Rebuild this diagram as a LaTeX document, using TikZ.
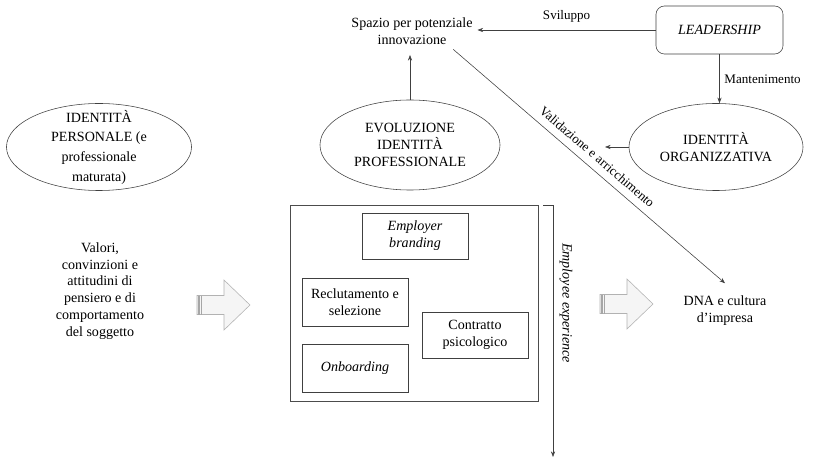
\documentclass[tikz,border=0pt]{standalone}
\usepackage{fontspec}
\setmainfont{Liberation Serif}
\usetikzlibrary{shapes.geometric,arrows.meta}

\begin{document}
\begin{tikzpicture}[x=0.025cm, y=-0.025cm,
  every node/.style={font=\fontsize{10}{12}\selectfont, align=center},
  oval/.style={draw=black!75, ellipse, inner sep=0pt},
  itembox/.style={draw=black!75, minimum width=2.65cm, minimum height=1.2cm},
  lab/.style={font=\fontsize{9.3}{11}\selectfont},
  conn/.style={draw=black!75, -{Stealth[length=4pt,width=3pt]}},
  pics/fatarrow/.style={code={
    \filldraw[fill=gray!8, draw=gray!60] (0,-9.5) -- (27,-9.5) -- (27,-25) -- (53,0) -- (27,25) -- (27,9.5) -- (0,9.5) -- cycle;
    \foreach \s in {1,2.5,4}
    {
      \draw[gray!70] (\s,-9.5) -- (\s,9.5);
    }
  }}]
\useasboundingbox (0,0) rectangle (814,458);

\node[oval, minimum width=4.625cm, minimum height=2.175cm, label={[font=\fontsize{10}{14}\selectfont]center:IDENTITÀ\\PERSONALE (e\\professionale\\maturata)}] (pers) at (99,147) {};
\node[oval, minimum width=4.5cm, minimum height=2.25cm, label={center:EVOLUZIONE\\IDENTITÀ\\PROFESSIONALE}] (evo) at (410,145) {};
\node[oval, minimum width=4.35cm, minimum height=2.175cm, label={center:IDENTITÀ\\ORGANIZZATIVA}] (org) at (716,147) {};
\node[draw=black!75, rounded corners=6pt, minimum width=3.175cm, minimum height=1.2cm, font=\fontsize{10}{12}\selectfont\itshape] (lead) at (719.5,30) {LEADERSHIP};
\node (spazio) at (412,31) {Spazio per potenziale\\innovazione};
\node (valori) at (100,291) {Valori,\\convinzioni e\\attitudini di\\pensiero e di\\comportamento\\del soggetto};
\node (dna) at (725,311) {DNA e cultura\\d'impresa};

\node[draw=black!70, minimum width=6.2cm, minimum height=4.9cm] (frame) at (414,303) {};
\node[itembox, minimum height=1.15cm, font=\fontsize{10}{12}\selectfont\itshape] (brand) at (415,236) {Employer\\branding};
\node[itembox] (recl) at (355,302) {Reclutamento e\\selezione};
\node[itembox, font=\fontsize{10}{12}\selectfont\itshape] (onb) at (355,368) {Onboarding};
\node[itembox, minimum height=1.15cm] (contr) at (475,335) {Contratto\\psicologico};

\pic at (197,305) {fatarrow};
\pic at (600,304) {fatarrow};

\coordinate (eetick) at (543,205);
\coordinate (eetop) at (553,205);
\coordinate (eebot) at (553,457);
\draw[conn] (eetick) -- (eetop) -- (eebot);
\node[rotate=-90, font=\fontsize{10}{12}\selectfont\itshape] (eelab) at (566,303) {Employee experience};

\coordinate (orgtip) at (605,147);
\draw[conn, shorten >=4pt] (evo.north) -- (evo.north |- spazio.south);
\draw[conn] (lead.west) -- (lead.west -| spazio.east) node[lab, midway, above=2pt] {Sviluppo};
\draw[conn] (lead.south) -- (lead.south |- org.north) node[lab, midway, right] {Mantenimento};
\draw[conn] (org.west) -- (orgtip);
\draw[conn] ([xshift=1.03cm]spazio.south) -- ([yshift=0.2cm]dna.north) node[lab, midway, sloped, above=2pt] {Validazione e arricchimento};
\end{tikzpicture}
\end{document}
